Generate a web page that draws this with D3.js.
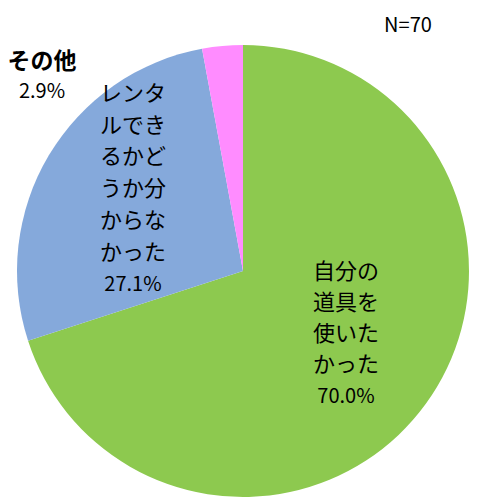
<!DOCTYPE html>
<html>
<head>
<meta charset="utf-8">
<script src="https://cdn.jsdelivr.net/npm/d3@7"></script>
<style>
  body { margin: 0; background: #fff; }
  text { font-family: "Noto Sans CJK JP", "Noto Sans", sans-serif; fill: #000; }
</style>
</head>
<body>
<script>
var categories = ["自分の道具を使いたかった", "レンタルできるかどうか分からなかった", "その他"];
var values = [70.0, 27.1, 2.9];
var labelLines = [
  ["自分の", "道具を", "使いた", "かった", "70.0%"],
  ["レンタ", "ルでき", "るかど", "うか分", "からな", "かった", "27.1%"],
  ["その他", "2.9%"]
];
var colors = ["#8DC94F", "#85A9DB", "#FF8CFF"];
var sampleNote = "N=70";

var width = 488, height = 500;
var cx = 243, cy = 271, radius = 226;

var svg = d3.select("body").append("svg")
  .attr("width", width)
  .attr("height", height);

var pie = d3.pie().sort(null).value(function(d){ return d; });
var arc = d3.arc().innerRadius(0).outerRadius(radius);

var g = svg.append("g").attr("transform", "translate(" + cx + "," + cy + ")");

g.selectAll("path")
  .data(pie(values))
  .enter()
  .append("path")
  .attr("d", arc)
  .style("fill", function(d, i){ return colors[i]; });

// label anchor spots (relative to center), line spacing
var labelPos = [[75, 8], [-110, -170], [-201, -202]];
var lineH = [31, 31.7, 29];

labelLines.forEach(function(lines, i){
  var t = svg.append("text")
    .attr("text-anchor", "middle")
    .style("font-size", i == 2 ? "23px" : "22px")
    .style("font-weight", i == 2 ? "bold" : "normal");
  lines.forEach(function(s, j){
    var isPct = j == lines.length - 1;
    t.append("tspan")
      .attr("x", cx + labelPos[i][0] + (i == 0 ? 28 : 0))
      .attr("y", cy + labelPos[i][1] + j * lineH[i])
      .style("font-weight", (i == 2 && isPct) ? "normal" : null)
      .style("font-size", isPct ? "20px" : null)
      .text(s);
  });
});

svg.append("text")
  .attr("x", 408)
  .attr("y", 32)
  .attr("text-anchor", "middle")
  .style("font-size", "20px")
  .text(sampleNote);
</script>
</body>
</html>
